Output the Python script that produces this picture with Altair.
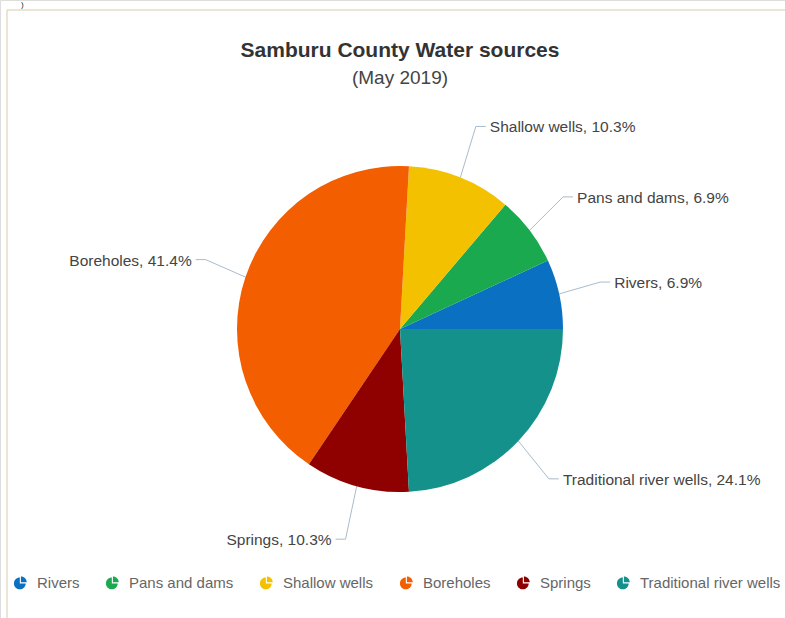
import math
import altair as alt
import pandas as pd

# ---- data ----
sources = ["Rivers", "Pans and dams", "Shallow wells", "Boreholes", "Springs", "Traditional river wells"]
shares = [6.9, 6.9, 10.3, 41.4, 10.3, 24.1]
colors = ["#0a70c2", "#1aa94f", "#f3c100", "#f35e00", "#8f0000", "#13918a"]
title_text = ["Samburu County Water sources"]
subtitle_text = ["(May 2019)"]

# ---- layout ----
W, H = 785, 618
CX, CY, R = 400, 329, 163
RX_ELBOW, RY_ELBOW = 205, 218
HOOK = 10
GAP = 4
FONT = "Liberation Sans"

total = sum(shares)
pie_rows, line_rows, label_rows = [], [], []
cum = 0.0
for i, (s, v) in enumerate(zip(sources, shares)):
    mid = math.radians((cum + v / 2) / total * 360.0)
    cum += v
    pie_rows.append({"source": s, "value": v, "ord": len(sources) - 1 - i})
    c, sn = math.cos(mid), math.sin(mid)
    side = 1 if c >= 0 else -1
    ex, ey = CX + R * c, CY - R * sn
    bx, by = CX + RX_ELBOW * c, CY - RY_ELBOW * sn
    hx = bx + side * HOOK
    for k, (px, py) in enumerate([(ex, ey), (bx, by), (hx, by)]):
        line_rows.append({"source": s, "pt": k, "px": px, "py": py})
    label_rows.append({"source": s, "label": f"{s}, {v}%", "lx": hx + side * GAP, "ly": by + 1,
                       "side": "right" if side > 0 else "left"})

pie_df = pd.DataFrame(pie_rows)
line_df = pd.DataFrame(line_rows)
label_df = pd.DataFrame(label_rows)

xs = alt.Scale(domain=[0, W], nice=False, zero=False)
ys = alt.Scale(domain=[0, H], nice=False, zero=False, reverse=True)

icon = ("M-0.1,0.1 L-0.1,-0.75 A0.85,0.85 0 1,0 0.75,0.1 Z "
        "M0.06,-0.06 L0.06,-0.91 A0.85,0.85 0 0,1 0.91,-0.06 Z")

one = pd.DataFrame({"a": [0]})
border_top = alt.Chart(one).mark_rule(color="#e3dcc6", strokeWidth=1.5).encode(
    x=alt.value(7), x2=alt.value(W), y=alt.value(10))
border_left = alt.Chart(one).mark_rule(color="#e3dcc6", strokeWidth=1.5).encode(
    x=alt.value(7), y=alt.value(10), y2=alt.value(H))
paren = alt.Chart(pd.DataFrame({"t": [")"]})).mark_text(
    font=FONT, fontSize=8, color="#222", baseline="top", align="left").encode(
    text="t:N", x=alt.value(21), y=alt.value(1))

title = alt.Chart(pd.DataFrame({"t": title_text})).mark_text(
    font=FONT, fontSize=21, fontWeight="bold", color="#333333", baseline="alphabetic").encode(
    text="t:N", x=alt.value(400), y=alt.value(57))
subtitle = alt.Chart(pd.DataFrame({"t": subtitle_text})).mark_text(
    font=FONT, fontSize=19, color="#444444", baseline="alphabetic").encode(
    text="t:N", x=alt.value(400), y=alt.value(84))

pie = alt.Chart(pie_df).mark_arc(outerRadius=R).encode(
    theta=alt.Theta("value:Q", stack=True,
                    scale=alt.Scale(range=[math.pi / 2, math.pi / 2 + 2 * math.pi])),
    order=alt.Order("ord:Q"),
    color=alt.Color("source:N", scale=alt.Scale(domain=sources, range=colors),
                    legend=alt.Legend(orient="none", legendX=13, legendY=575,
                                      direction="horizontal", title=None,
                                      symbolType=icon, symbolSize=190,
                                      symbolStrokeWidth=0,
                                      labelFont=FONT, labelFontSize=15, labelColor="#666666",
                                      labelOffset=9, columnPadding=25, labelLimit=300)),
    x=alt.value(CX), y=alt.value(CY),
)

lines = alt.Chart(line_df).mark_line(color="#a9bccb", strokeWidth=1).encode(
    x=alt.X("px:Q", scale=xs, axis=None),
    y=alt.Y("py:Q", scale=ys, axis=None),
    detail="source:N",
    order="pt:Q",
)

lab_right = alt.Chart(label_df).transform_filter(alt.datum.side == "right").mark_text(
    font=FONT, fontSize=15.5, color="#444444", align="left", baseline="middle").encode(
    x=alt.X("lx:Q", scale=xs, axis=None), y=alt.Y("ly:Q", scale=ys, axis=None), text="label:N")
lab_left = alt.Chart(label_df).transform_filter(alt.datum.side == "left").mark_text(
    font=FONT, fontSize=15.5, color="#444444", align="right", baseline="middle").encode(
    x=alt.X("lx:Q", scale=xs, axis=None), y=alt.Y("ly:Q", scale=ys, axis=None), text="label:N")

chart = alt.layer(
    border_top, border_left, paren, title, subtitle, lines, pie, lab_right, lab_left
).properties(
    width=W, height=H,
    autosize=alt.AutoSizeParams(type="none"),
    padding={"left": 0, "top": 0, "right": 0, "bottom": 0},
).configure_view(stroke="transparent").configure(background="white")

chart.save("out.html", embed_options={"renderer": "svg", "actions": False})
